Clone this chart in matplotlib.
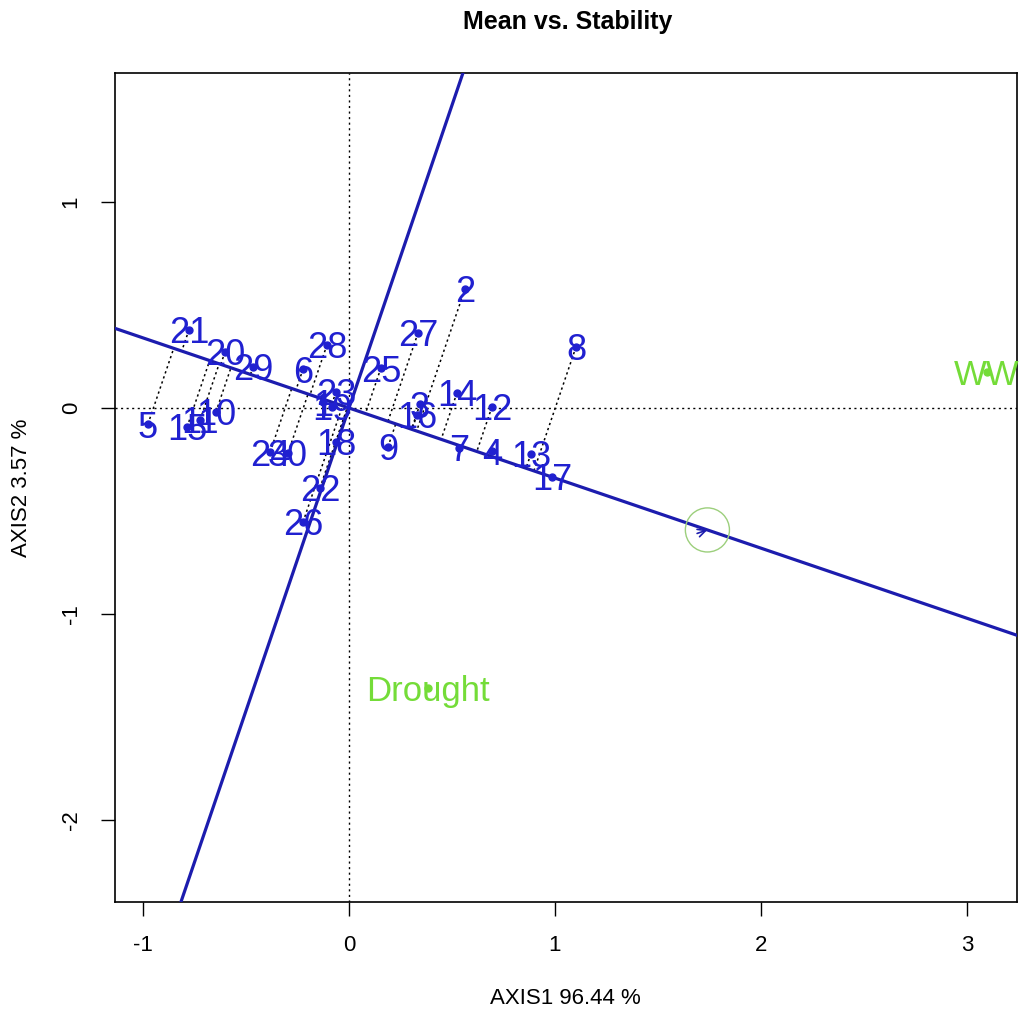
import numpy as np
import matplotlib
matplotlib.use("Agg")
import matplotlib.pyplot as plt
from matplotlib.patches import Circle

plt.rcParams['font.family'] = ['Liberation Sans', 'DejaVu Sans']

# Genotype scores (AXIS1, AXIS2)
gen_labels = [str(i) for i in range(1, 31)]
gen_x = [-0.126, 0.563, 0.345, 0.694, -0.976, -0.223, 0.534, 1.102, 0.189, -0.646,
         -0.723, 0.694, 0.883, 0.524, -0.786, 0.330, 0.985, -0.063, -0.083, -0.602,
         -0.777, -0.141, -0.063, -0.383, 0.155, -0.223, 0.335, -0.107, -0.466, -0.296]
gen_y = [0.029, 0.578, 0.019, -0.209, -0.078, 0.189, -0.194, 0.296, -0.189, -0.019,
         -0.058, 0.005, -0.223, 0.073, -0.092, -0.034, -0.335, -0.165, 0.005, 0.272,
         0.379, -0.388, 0.078, -0.214, 0.194, -0.553, 0.364, 0.306, 0.199, -0.218]

# Environment scores
env_labels = ["WW", "Drought"]
env_x = [3.097, 0.383]
env_y = [0.175, -1.359]

title = "Mean vs. Stability"
xlabel = "AXIS1 96.44 %"
ylabel = "AXIS2 3.57 %"
xticks = [-1, 0, 1, 2, 3]
yticks = [-2, -1, 0, 1]

GEN_COL = '#2020d0'
LINE_COL = '#1c1cae'
ENV_COL = '#74dc38'

fig = plt.figure(figsize=(10.19, 10.10), dpi=100)
ax = fig.add_axes([115/1019, 108/1010, 902/1019, 829/1010])
ax.set_xlim(-1.136, 3.243)
ax.set_ylim(-2.398, 1.626)

# reference lines
ax.axhline(0, color='black', linestyle=(0, (1.5, 2.5)), linewidth=1.0, zorder=1)
ax.axvline(0, color='black', linestyle=(0, (1.5, 2.5)), linewidth=1.0, zorder=1)

# average environment coordinate
ax_m = np.mean(env_x)
ay_m = np.mean(env_y)
slope = ay_m / ax_m
ax.axline((0, 0), slope=slope, color=LINE_COL, linewidth=2.3, zorder=3)
ax.axline((0, 0), slope=-1/slope, color=LINE_COL, linewidth=2.3, zorder=3)

# projections of genotypes on AEA
gx = np.array(gen_x); gy = np.array(gen_y)
a2 = ax_m**2 + ay_m**2
t = (gx*ax_m + gy*ay_m) / a2
for x0, y0, tt in zip(gx, gy, t):
    ax.plot([x0, tt*ax_m], [y0, tt*ay_m], color='black',
            linestyle=(0, (1.5, 2.0)), linewidth=1.1, zorder=2)

# circle and arrow at average environment
ax.add_patch(Circle((ax_m, ay_m), 0.107, fill=False, edgecolor='#9ccf7c',
                    linewidth=1.0, zorder=4))
ax.annotate('', xy=(ax_m, ay_m), xytext=(ax_m - 0.05, ay_m + 0.05*slope),
            arrowprops=dict(arrowstyle='->', color=LINE_COL, lw=1.2,
                            mutation_scale=14, shrinkA=0, shrinkB=0), zorder=5)

# genotype points and labels
ax.plot(gx, gy, 'o', color=GEN_COL, markersize=5, zorder=5)
for lab, x0, y0 in zip(gen_labels, gx, gy):
    ax.text(x0, y0, lab, color=GEN_COL, fontsize=26, ha='center',
            va='center_baseline', zorder=6)

# environments
ax.plot(env_x, env_y, 'o', color=ENV_COL, markersize=5, zorder=5)
for lab, x0, y0 in zip(env_labels, env_x, env_y):
    ax.text(x0, y0, lab, color=ENV_COL, fontsize=25, ha='center',
            va='center_baseline', zorder=6)

ax.set_xticks(xticks)
ax.set_yticks(yticks)
ax.set_xticklabels([str(v) for v in xticks], fontsize=16)
ax.set_yticklabels([str(v) for v in yticks], fontsize=16, rotation=90, va='center')
ax.tick_params(direction='out', length=10, width=1, pad=14)
for s in ax.spines.values():
    s.set_linewidth(1.2)

fig.text(568/1019, 1 - 22/1010, title, ha='center', va='center',
         fontsize=18, fontweight='bold')
fig.text(565/1019, 1 - 998/1010, xlabel, ha='center', va='center', fontsize=16)
fig.text(22/1019, 1 - 488/1010, ylabel, ha='center', va='center', fontsize=16,
         rotation=90)

fig.savefig('out.png', dpi=100)
